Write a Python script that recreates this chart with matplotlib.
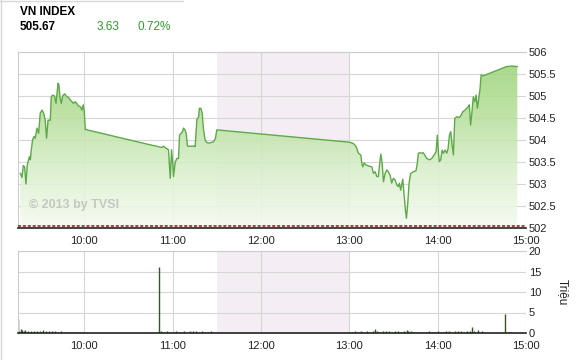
import numpy as np
import matplotlib
matplotlib.use("Agg")
import matplotlib.pyplot as plt
from matplotlib.colors import LinearSegmentedColormap

plt.rcParams['font.family'] = ['Liberation Sans', 'DejaVu Sans']

# index: minutes after 9:00, value
idx_min = [16.6, 17.7, 18.6, 19.5, 20.4, 21.3, 22.7, 23.4, 24.0, 24.9,
           25.9, 26.7, 27.9, 29.0, 30.1, 31.3, 32.4, 33.5, 34.4, 35.4,
           36.9, 37.6, 38.5, 39.8, 40.8, 41.7, 42.2, 42.8, 43.5, 44.4,
           45.3, 46.6, 48.3, 49.3, 50.5, 51.7, 52.7, 53.9, 55.0, 56.1,
           57.3, 58.4, 59.3, 60.0, 60.7,
           104.8, 112.7, 113.8, 115.7, 117.2, 118.4, 119.3, 120.2, 120.6, 121.8,
           122.9, 124.0, 124.7, 125.8, 126.7, 127.4, 128.5, 129.2, 130.1, 131.9,
           134.7, 135.3, 136.5, 137.6, 138.2, 139.2, 140.1, 141.0, 142.1, 143.3,
           144.4, 146.0, 147.8, 149.1, 150.0,
           240.0, 242.8, 244.6, 246.2, 247.8, 248.5, 249.2, 250.1, 251.4, 253.0,
           255.3, 256.4, 257.5, 258.7, 259.7, 260.4, 261.4, 262.3, 263.2, 264.3,
           265.5, 266.5, 267.7, 268.8, 269.9, 271.1, 272.2, 273.3, 274.0, 274.9,
           275.6, 276.3, 277.2, 278.1, 278.8, 279.7, 280.6, 281.7, 283.5, 285.3,
           286.2, 286.9, 288.0, 289.2, 290.3, 292.6, 294.4, 296.0, 297.5, 298.9,
           299.8, 300.5, 301.1, 302.1, 303.0, 303.9, 305.0, 306.2, 307.1, 308.0,
           308.9, 309.8, 310.7, 311.6, 313.0, 314.7, 316.1, 317.0, 318.6, 319.7,
           320.8, 321.5, 322.4, 323.3, 324.2, 325.2, 326.1, 327.0, 327.9, 328.8,
           329.5, 331.0, 333.3, 337.8, 342.3, 346.9, 350.3, 354.1]
idx_val = [503.24, 503.15, 503.42, 503.39, 503.00, 503.43, 503.62, 503.55, 503.77, 504.00,
           504.08, 504.04, 504.27, 504.15, 504.61, 504.68, 504.61, 504.45, 504.04, 504.45,
           504.45, 504.98, 505.02, 505.00, 504.83, 505.14, 505.29, 505.25, 504.98, 504.83,
           505.00, 505.05, 504.98, 504.97, 504.91, 504.87, 504.83, 504.87, 504.83, 504.77,
           504.76, 504.68, 504.80, 504.64, 504.24,
           503.89, 503.83, 503.86, 503.81, 503.78, 503.13, 503.78, 503.43, 503.17, 503.50,
           503.58, 503.58, 504.11, 504.15, 504.19, 504.27, 504.23, 504.15, 503.86, 503.86,
           503.86, 503.85, 504.47, 504.52, 504.72, 504.72, 504.61, 504.23, 504.00, 503.94,
           503.93, 503.94, 503.96, 504.04, 504.23,
           503.95, 503.92, 503.85, 503.70, 503.66, 503.47, 503.39, 503.48, 503.43, 503.41,
           503.39, 503.24, 503.28, 503.17, 503.17, 503.39, 503.68, 503.47, 503.05, 503.24,
           503.32, 503.28, 503.20, 503.02, 503.13, 503.09, 502.98, 502.94, 503.02, 502.86,
           502.98, 503.11, 502.75, 502.41, 502.22, 502.56, 503.02, 503.24, 503.28, 503.30,
           503.47, 503.70, 503.71, 503.70, 503.71, 503.58, 503.55, 503.58, 503.66, 503.73,
           504.11, 503.73, 503.51, 503.55, 503.77, 503.70, 503.77, 503.70, 503.81, 504.11,
           504.19, 503.89, 503.66, 504.49, 504.53, 504.51, 504.57, 504.64, 504.68, 504.72,
           504.76, 504.80, 504.34, 504.64, 504.98, 504.87, 505.02, 504.72, 504.95, 505.17,
           505.48, 505.46, 505.49, 505.55, 505.61, 505.67, 505.68, 505.67]

# volume (million shares)
vol_min = [15, 16, 17, 18, 19, 20, 22, 24, 26, 28, 30, 32, 34, 36, 38, 40,
           42, 44, 46, 48, 50, 52, 54, 56, 58, 60,
           111, 112, 114, 116, 118, 120, 122, 124, 126, 128, 130, 132, 134,
           136, 138, 140, 142, 144, 146, 148, 150,
           240, 242, 244, 246, 248, 250, 252, 254, 256, 257.5, 259, 261, 263,
           265, 267, 269, 271, 273, 275, 277, 279, 280, 282, 284, 286, 288,
           290, 292, 294, 296, 298, 300, 302, 304, 306, 308, 310, 312, 314,
           316, 318, 320, 322, 323, 325, 327.6, 330, 346, 347.8, 350]
vol_val = [3.3, 0.5, 0.9, 0.7, 0.6, 0.7, 0.5, 0.6, 0.5, 0.6, 0.5, 0.7, 0.6, 0.5, 0.4, 0.4,
           0.3, 0.4, 0.3, 0.3, 0.3, 0.3, 0.3, 0.3, 0.3, 0.3,
           16.0, 0.4, 0.3, 0.4, 0.3, 0.3, 0.4, 0.3, 0.3, 0.4, 0.3, 0.5, 0.4,
           0.4, 0.3, 0.4, 0.3, 0.3, 0.4, 0.3, 0.3,
           0.3, 0.3, 0.4, 0.3, 0.4, 0.3, 0.4, 0.3, 0.4, 1.0, 0.4, 0.3, 0.4,
           0.4, 0.5, 0.3, 0.5, 0.4, 0.3, 0.4, 0.8, 0.5, 0.4, 0.3, 0.3, 0.3,
           0.3, 0.3, 0.4, 0.3, 0.3, 0.4, 0.3, 0.3, 0.4, 0.4, 0.3, 0.4, 0.5,
           0.4, 0.3, 0.4, 0.5, 1.4, 0.6, 0.8, 0.6, 4.7, 0.2, 0.2]

hour_ticks = [10, 11, 12, 13, 14, 15]
hour_labels = ['10:00', '11:00', '12:00', '13:00', '14:00', '15:00']
price_ticks = [502, 502.5, 503, 503.5, 504, 504.5, 505, 505.5, 506]
price_labels = ['502', '502.5', '503', '503.5', '504', '504.5', '505', '505.5', '506']
vol_ticks = [0, 5, 10, 15, 20]
ref_price = 502.04
lunch = (11.5, 13.0)

x_idx = 9 + np.array(idx_min) / 60.0
x_vol = 9 + np.array(vol_min) / 60.0

fig = plt.figure(figsize=(5.8, 3.6), dpi=100)
W, H = 580.0, 360.0
ax1 = fig.add_axes([18 / W, 1 - 228 / H, 508 / W, 176 / H])
ax2 = fig.add_axes([18 / W, 1 - 333 / H, 508 / W, 82 / H])

grid_c = '#d6d6d6'
for ax in (ax1, ax2):
    ax.set_xlim(9.25, 15)
    ax.axvspan(lunch[0], lunch[1], color='#f4eef4', zorder=0, lw=0)
    ax.set_xticks(hour_ticks)
    ax.set_xticklabels(hour_labels)
    ax.grid(True, color=grid_c, lw=0.8, zorder=0.5)
    ax.set_axisbelow(True)
    ax.yaxis.tick_right()
    ax.tick_params(axis='x', length=0, pad=6, labelsize=8, colors='#222222')
    ax.tick_params(axis='y', length=0, pad=2, labelsize=8, colors='#222222')
    for s in ('top', 'left'):
        ax.spines[s].set_color('#cccccc')
        ax.spines[s].set_linewidth(0.8)
    ax.spines['right'].set_visible(False)
    ax.spines['bottom'].set_color('#222222')
    ax.spines['bottom'].set_linewidth(1.2)

# top: index with gradient fill
ax1.set_ylim(502, 506)
ax1.set_yticks(price_ticks)
ax1.set_yticklabels(price_labels)
poly = ax1.fill_between(x_idx, idx_val, 502, color='none', lw=0)
cmap = LinearSegmentedColormap.from_list('g', ['#f6fbf2', '#d9efcb', '#b4de98', '#9ad277'])
grad = np.linspace(0, 1, 256).reshape(-1, 1)
im = ax1.imshow(grad, extent=[9.25, 15, 502, 506], origin='lower', aspect='auto',
                cmap=cmap, alpha=0.88, zorder=1)
im.set_clip_path(poly.get_paths()[0], transform=ax1.transData)
ax1.plot(x_idx, idx_val, color='#5ea94a', lw=1.0, zorder=2)
ax1.axhline(ref_price, color='#9b1010', lw=1.1, ls=(0, (2, 1.2)), zorder=3)
ax1.set_xlim(9.25, 15)
ax1.set_ylim(502, 506)
ax1.text(9.38, 502.45, '\u00a9 2013 by TVSI', fontsize=9, fontweight='bold',
         color='#c3c8c0', zorder=2.5)

# bottom: volume
ax2.set_ylim(0, 20)
ax2.set_yticks(vol_ticks)
ax2.vlines(x_vol, 0, vol_val, color='#2f5a22', lw=1.0, zorder=2)
ax2.yaxis.set_label_position('right')
ax2.set_ylabel('Tri\u1ec7u', rotation=-90, fontsize=8.5, labelpad=20, color='#222222')

# header
fig.text(20 / W, 1 - 12 / H, 'VN INDEX', fontsize=8.5, fontweight='bold', va='center')
fig.text(20 / W, 1 - 27 / H, '505.67', fontsize=8.5, fontweight='bold', va='center')
fig.text(97 / W, 1 - 27 / H, '3.63', fontsize=8.5, color='#2f9a2f', va='center')
fig.text(137 / W, 1 - 27 / H, '0.72%', fontsize=8.5, color='#2f9a2f', va='center')

# faint frame lines
fig.add_artist(plt.Line2D([0.5 / W, 0.5 / W], [0, 1], color='#d8d8d8', lw=1))
fig.add_artist(plt.Line2D([0, 183 / W], [1 - 0.5 / H, 1 - 0.5 / H], color='#d8d8d8', lw=1))

fig.savefig('out.png', dpi=100)
